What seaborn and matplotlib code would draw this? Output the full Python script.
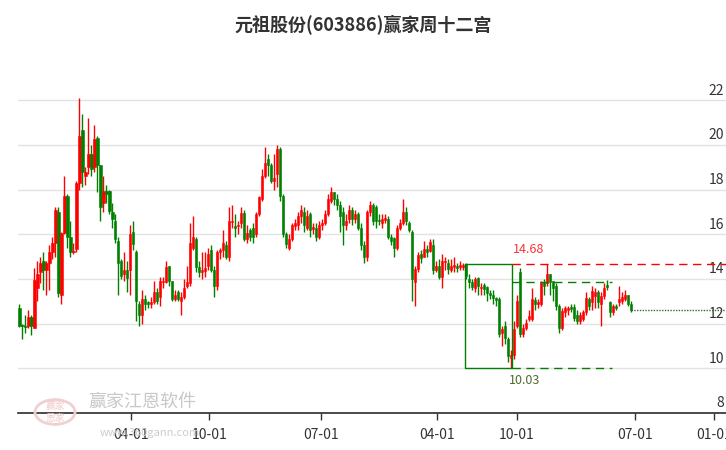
import numpy as np
import pandas as pd
import matplotlib
matplotlib.use("Agg")
import matplotlib.pyplot as plt
import seaborn as sns

title = "元祖股份(603886)赢家周十二宫"
opens = [12.7,11.95,11.9,11.9,12.3,11.8,13.6,14.3,14.8,14.4,14.7,15.2,15.6,17.0,13.3,16.05,17.7,15.9,15.2,15.35,
 18.3,20.65,18.6,19.0,19.6,19.0,20.3,19.1,17.4,17.95,17.95,17.0,16.6,15.7,14.8,14.2,14.4,14.4,16.1,15.2,
 12.9,12.4,13.1,12.95,12.9,12.95,13.4,13.2,13.85,13.85,14.6,13.9,13.1,13.4,13.0,13.2,13.7,13.8,15.4,15.8,
 14.55,14.3,14.35,14.6,15.3,14.4,13.7,15.2,15.3,15.5,15.0,16.55,16.35,16.35,16.5,16.95,15.8,16.2,16.3,16.0,
 16.9,17.6,18.6,19.35,19.1,18.4,18.7,19.8,17.7,16.0,15.4,15.8,16.35,16.4,16.8,17.0,16.3,16.9,16.25,16.3,
 15.9,16.4,16.5,16.9,17.5,17.9,17.6,17.3,17.0,16.4,16.7,17.1,16.7,16.9,16.3,15.5,15.0,17.0,17.3,17.2,
 16.65,16.5,16.65,16.7,15.9,15.85,15.4,16.3,16.5,17.0,16.5,16.1,13.85,14.45,15.1,15.0,15.35,15.25,15.5,14.4,
 14.6,14.1,14.75,14.7,14.4,14.55,14.6,14.55,14.55,14.65,14.0,13.85,13.6,14.05,13.6,13.75,13.65,13.35,13.3,13.15,
 13.1,11.6,11.9,11.3,10.45,10.6,11.9,14.3,11.55,11.8,12.2,12.2,13.05,12.9,12.9,13.85,13.8,14.2,13.9,13.7,
 12.8,11.8,12.5,12.6,12.75,12.75,12.4,12.1,12.2,12.5,13.1,12.95,13.25,13.4,12.9,13.25,13.75,12.95,12.5,12.8,
 12.95,13.0,13.1,13.3,12.9]
closes = [11.9,11.9,11.85,12.3,11.9,13.95,14.2,14.7,14.4,14.7,15.2,15.6,17.1,13.35,16.05,17.7,15.9,15.2,15.25,18.3,
 20.4,18.8,18.8,19.6,18.9,20.25,19.1,17.2,17.95,17.8,17.05,16.7,15.8,14.7,14.15,14.4,14.05,16.0,15.55,13.0,
 12.4,13.1,12.9,12.9,12.95,13.4,13.0,13.9,13.9,14.55,13.9,13.1,13.3,13.1,13.2,13.6,13.85,15.6,15.9,14.55,
 14.3,14.4,14.5,15.1,14.4,13.7,15.2,15.3,15.6,15.0,16.6,16.6,16.3,16.4,16.95,15.8,16.05,15.9,15.9,16.9,
 17.65,18.6,19.2,19.1,18.4,18.5,19.8,17.7,16.0,15.55,15.8,16.4,16.5,16.8,17.1,16.4,16.8,16.2,16.3,15.9,
 16.4,16.5,16.9,17.6,17.9,17.6,17.3,16.8,16.4,16.6,17.1,16.7,16.9,16.3,15.5,15.0,17.0,17.3,16.6,16.6,
 16.6,16.7,16.75,15.9,15.7,15.4,16.3,16.5,17.0,16.6,16.2,14.0,14.45,15.05,14.95,15.35,15.2,15.65,14.4,14.6,
 14.1,14.8,14.8,14.45,14.6,14.6,14.5,14.6,14.6,14.15,13.85,13.65,14.0,13.7,13.65,13.55,13.35,13.3,13.15,13.05,
 11.55,11.75,11.35,10.55,10.6,11.75,13.0,11.55,11.8,12.05,12.35,13.1,12.9,12.9,13.85,13.7,14.2,13.85,13.6,12.8,
 11.8,12.55,12.7,12.7,12.65,12.25,12.1,12.4,12.5,13.15,12.8,13.45,13.4,12.95,13.25,13.6,13.65,12.5,12.8,12.7,
 13.1,13.2,13.3,12.9,12.6]
highs = [12.9,12.0,12.4,12.6,12.4,14.5,14.8,15.0,15.2,14.8,15.5,15.9,17.2,17.2,16.1,18.6,17.8,16.6,15.6,18.4,
 22.1,21.4,19.0,21.2,20.0,20.9,20.4,19.1,18.6,18.2,18.0,17.4,16.9,15.9,14.9,15.2,14.8,16.4,16.6,15.3,
 13.0,13.5,13.3,13.0,13.2,13.9,13.6,14.1,14.1,14.8,14.6,13.9,13.5,13.5,13.4,14.0,14.6,16.5,16.8,15.9,
 14.8,15.2,15.2,15.4,15.5,14.6,15.3,15.4,16.2,15.7,17.2,17.3,16.9,16.6,17.2,17.1,16.4,16.3,16.5,17.0,
 17.7,18.9,19.9,19.6,19.2,19.6,20.0,19.9,17.8,16.1,16.0,16.5,16.7,17.0,17.3,17.2,17.1,17.0,16.5,16.5,
 16.6,16.7,17.1,17.8,18.1,17.9,17.8,17.5,17.2,16.9,17.3,17.2,17.1,17.0,16.5,15.7,17.1,17.5,17.4,17.3,
 16.9,16.9,16.9,16.8,16.0,15.9,16.4,16.7,17.6,17.2,16.6,16.2,14.6,15.2,15.3,15.7,15.5,15.8,15.8,14.8,
 14.9,15.1,15.0,14.9,14.9,15.0,14.7,14.8,14.7,14.7,14.2,14.0,14.1,14.1,13.8,13.8,13.7,13.5,13.5,13.2,
 13.2,11.9,12.1,11.4,10.8,12.1,13.3,14.5,12.0,12.2,12.6,13.6,13.2,13.1,13.9,14.0,14.68,14.2,13.9,13.8,
 12.9,12.7,12.8,12.8,12.9,12.9,12.6,12.5,12.6,13.4,13.2,13.7,13.6,13.5,13.4,13.8,13.95,13.0,12.9,12.9,
 13.7,13.4,13.5,13.3,13.0]
lows = [11.85,11.3,11.6,11.8,11.5,11.8,13.0,13.8,13.5,13.3,13.5,14.9,15.0,13.2,12.9,16.0,15.4,15.0,15.1,15.2,
 18.0,18.1,18.2,18.7,18.6,18.8,17.9,16.6,17.0,17.4,16.9,16.3,15.6,13.3,14.0,13.9,13.4,13.3,15.3,12.1,
 11.9,12.0,12.6,12.7,12.7,12.9,12.9,12.8,13.6,13.8,13.7,13.0,13.0,13.0,12.4,13.1,13.6,13.7,15.3,14.3,
 14.1,14.0,14.1,14.4,14.3,13.2,13.5,14.9,15.0,14.9,14.8,16.3,15.9,16.0,16.3,15.7,15.6,15.7,15.6,15.9,
 16.8,17.5,18.5,18.6,18.3,18.0,18.1,17.5,15.9,15.4,15.3,15.7,16.2,16.2,16.5,16.1,16.2,15.9,16.0,15.7,
 15.8,16.2,16.4,16.8,17.4,17.3,17.1,16.1,15.5,16.2,16.5,16.4,16.5,16.2,15.3,14.7,14.8,16.8,16.4,16.3,
 16.4,16.3,16.5,15.8,15.5,15.0,15.3,16.2,16.4,16.4,16.1,13.0,12.8,14.3,14.7,15.0,15.0,15.2,14.2,14.3,
 14.0,13.6,14.4,14.2,14.3,14.3,14.3,14.4,14.4,14.0,13.6,13.5,13.4,13.3,13.3,13.3,13.0,13.1,12.9,12.8,
 11.4,11.0,11.1,10.3,10.03,10.4,11.8,11.4,11.4,11.7,12.1,12.1,12.6,12.7,12.8,13.3,13.7,13.3,13.0,12.6,
 11.6,11.7,12.3,12.4,12.5,12.1,12.0,12.0,12.1,12.4,12.6,12.6,12.7,12.7,11.9,13.1,13.5,12.3,12.4,12.6,
 12.8,12.9,13.0,12.8,12.5]
tick_labels = ["04-01", "10-01", "07-01", "04-01", "10-01", "07-01", "01-01"]
tick_pos = [37.3, 63.3, 100.7, 139.3, 166.0, 205.3, 231.7]
y_ticks = [8, 10, 12, 14, 16, 18, 20, 22]
box_hi, box_lo = 14.68, 10.03
mid_level = 13.85

sns.set_theme(style="white")
plt.rcParams['font.family'] = ['Noto Sans CJK SC', 'DejaVu Sans']

df = pd.DataFrame({"o": opens, "c": closes, "h": highs, "l": lows})
df["i"] = np.arange(len(df))
df["h"] = np.maximum(df["h"], df[["o", "c"]].max(axis=1))
df["l"] = np.minimum(df["l"], df[["o", "c"]].min(axis=1))
up = df["c"] >= df["o"]
RED, GREEN = "#ff0000", "#008000"
cols = np.where(up, RED, GREEN)

fig = plt.figure(figsize=(7.26, 4.5), dpi=100)
ax = fig.add_axes([18/726, 37/450, 708/726, 353/450])
ax.set_xlim(-0.5, 235.8)
ax.set_ylim(8, 23.8)
for y in y_ticks:
    ax.axhline(y, color="#e3e3e3", lw=1, zorder=0)
    ax.text(0.997, y + 0.12, str(y), transform=ax.get_yaxis_transform(), ha="right", va="bottom",
            fontsize=10, color="#333333")
ax.vlines(df["i"], df["l"], df["h"], colors=cols, lw=1, zorder=2)
ax.bar(df["i"], (df["c"] - df["o"]).abs().clip(lower=0.06), bottom=df[["o", "c"]].min(axis=1),
       width=0.75, color=cols, edgecolor=cols, lw=0.4, zorder=3)

# annotations
x0, x1, x2 = 148.7, 164.3, 197.7
ax.plot([x0, x1, x1, x0, x0], [box_hi, box_hi, box_lo, box_lo, box_hi], color=GREEN, lw=1, zorder=4)
ax.plot([x1, 236], [box_hi, box_hi], color=RED, lw=1, ls=(0, (6, 4)), zorder=4)
ax.plot([x1, x2], [box_lo, box_lo], color=GREEN, lw=1, ls=(0, (6, 4)), zorder=4)
ax.plot([x1, x2], [mid_level, mid_level], color=GREEN, lw=1, ls=(0, (6, 4)), zorder=4)
ax.text(170, box_hi + 0.35, f"{box_hi:.2f}", color="#ff3333", fontsize=9, ha="center", va="bottom")
ax.text(168.5, box_lo - 0.3, f"{box_lo:.2f}", color="#4d6b2a", fontsize=9, ha="center", va="top")
last = len(df) - 1
sns.lineplot(x=[last, 236], y=[closes[-1], closes[-1]], ax=ax, color="#2e6b2e", lw=1,
             linestyle=(0, (1, 1)), zorder=4)

ax.set_yticks([])
ax.set_xticks(tick_pos)
ax.set_xticklabels(tick_labels, fontsize=10, color="#333333")
ax.tick_params(axis="x", length=5, width=1, color="#333333", pad=6, bottom=True)
for s in ["left", "right", "top"]:
    ax.spines[s].set_visible(False)
ax.spines["bottom"].set_color("#333333")

fig.text(0.5, 25/450 and 1 - 25/450, title, ha="center", va="center", fontsize=13, fontweight="bold",
         color="#333333")
# watermark
fig.text(88/726, 1 - 402/450, "赢家江恩软件", fontsize=13, color="#c8c8c8", va="center")
fig.text(100/726, 1 - 433/450, "www.360gann.com", fontsize=8, color="#cccccc", va="center")
circ = plt.Circle((55/726, 1 - 412/450), 20/726, transform=fig.transFigure, fill=False,
                  ec="#f0d0d0", lw=2)
fig.add_artist(circ)
fig.text(55/726, 1 - 412/450, "赢家\n恩家", fontsize=7, color="#f0c8c8", ha="center", va="center")

fig.savefig("out.png", dpi=100)
